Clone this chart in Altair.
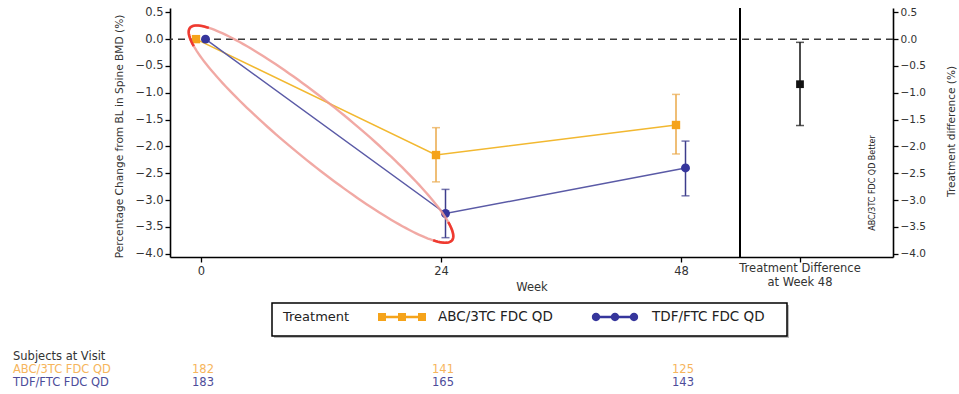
import altair as alt
import numpy as np
import pandas as pd

# ---------------- data ----------------
weeks = [0, 24, 48]
treatments = ["ABC/3TC FDC QD", "TDF/FTC FDC QD"]
abc_mean = [0.0, -2.16, -1.60]
abc_lo = [0.0, -2.66, -2.14]
abc_hi = [0.0, -1.65, -1.03]
tdf_mean = [0.0, -3.25, -2.40]
tdf_lo = [0.0, -3.70, -2.92]
tdf_hi = [0.0, -2.80, -1.90]
abc_n = [182, 141, 125]
tdf_n = [183, 165, 143]
diff_label = ["Treatment Difference", "at Week 48"]
diff_mean = [-0.84]
diff_lo = [-1.61]
diff_hi = [-0.06]
y_ticks = [-4.0, -3.5, -3.0, -2.5, -2.0, -1.5, -1.0, -0.5, 0.0, 0.5]
x_ticks = [0, 24, 48]

# ---------------- layout constants ----------------
TD_POS = 59.9        # x position of the treatment-difference column
SEP_POS = 53.9       # vertical separator
X_DOM = [-3.1, 69.2]
Y_DOM = [-4.06, 0.58]
W, H = 723, 249
FONT = "DejaVu Sans"

ORANGE_MARK, ORANGE_LINE, ORANGE_ERR, ORANGE_TXT = "#f5a31a", "#f2b830", "#eaa849", "#f6b55c"
BLUE_MARK, BLUE_LINE, BLUE_ERR, BLUE_TXT = "#36369c", "#5a5aa6", "#3d3d8c", "#4c4c9a"

xs = alt.Scale(domain=X_DOM, nice=False, zero=False)
ys = alt.Scale(domain=Y_DOM, nice=False, zero=False)

x_axis = alt.Axis(values=x_ticks + [TD_POS], labelExpr=f"datum.value > {SEP_POS} ? '' : datum.label",
                  title="Week", grid=False, labelFontSize=11.5, titleFontSize=11.5,
                  titleFontWeight="normal", tickSize=5, labelPadding=3, titlePadding=5,
                  labelOverlap=False)
y_axis_left = alt.Axis(values=y_ticks, tickCount=10, labelOverlap=False, format=".1f", grid=False,
                       labelFontSize=11.5,
                       title="Percentage Change from BL in Spine BMD (%)", titleFontSize=10.6,
                       titleFontWeight="normal", titleAngle=270, titleX=-51, titleY=128,
                       titleBaseline="middle", titleAlign="center", tickSize=5, labelPadding=2)
y_axis_right = alt.Axis(values=y_ticks, tickCount=10, labelOverlap=False, format=".1f", grid=False,
                        orient="right", labelFontSize=10.5,
                        title="Treatment difference (%)", titleFontSize=10.5, titleFontWeight="normal",
                        titleAngle=270, titleX=58, titleY=123, titleBaseline="middle",
                        titleAlign="center", tickSize=5, labelPadding=2)


def series_df(name, mean, lo, hi, n, offset):
    return pd.DataFrame({"treatment": name, "week": weeks, "mean": mean, "lo": lo, "hi": hi,
                         "n": n, "offset": offset})


abc = series_df(treatments[0], abc_mean, abc_lo, abc_hi, abc_n, -0.5)
tdf = series_df(treatments[1], tdf_mean, tdf_lo, tdf_hi, tdf_n, 0.45)


def series_layers(df, shape, mark_c, line_c, err_c, size):
    base = alt.Chart(df).transform_calculate(xp="datum.week + datum.offset")
    X = alt.X("xp:Q", scale=xs, axis=x_axis)
    Ym = alt.Y("mean:Q", scale=ys, axis=y_axis_left)
    line = base.mark_line(color=line_c, strokeWidth=1.5).encode(x=X, y=Ym)
    errb = base.transform_filter("datum.week > 0")
    rule = errb.mark_rule(color=err_c, strokeWidth=1.5).encode(
        x=X, y=alt.Y("lo:Q", scale=ys, axis=y_axis_left), y2="hi:Q")
    cap_lo = errb.mark_tick(color=err_c, orient="horizontal", size=8, thickness=1.5).encode(
        x=X, y=alt.Y("lo:Q", scale=ys, axis=y_axis_left))
    cap_hi = errb.mark_tick(color=err_c, orient="horizontal", size=8, thickness=1.5).encode(
        x=X, y=alt.Y("hi:Q", scale=ys, axis=y_axis_left))
    pts = base.mark_point(shape=shape, filled=True, color=mark_c, opacity=1, size=size).encode(
        x=X, y=Ym)
    return [line, rule, cap_lo, cap_hi, pts]


one = pd.DataFrame({"k": [0]})

zero_line = alt.Chart(one).mark_rule(color="#3a3a3a", strokeDash=[7, 5], strokeWidth=1.5).encode(
    y=alt.Y("z:Q", scale=ys, axis=y_axis_left)).transform_calculate(z="0")
separator = alt.Chart(one).mark_rule(color="black", strokeWidth=2).encode(
    x=alt.X("s:Q", scale=xs, axis=x_axis)).transform_calculate(s=str(SEP_POS))

# red highlight ellipse (annotation drawn on the reference)
ell_c, ell_u, ell_v = (12.0, -1.77), (13.1, -1.98), (-1.85, -0.42)
tt = np.linspace(-np.pi, np.pi, 181)
ell_df = pd.DataFrame({"i": np.arange(len(tt)), "t": tt,
                       "ex": ell_c[0] + np.cos(tt) * ell_u[0] + np.sin(tt) * ell_v[0],
                       "ey": ell_c[1] + np.cos(tt) * ell_u[1] + np.sin(tt) * ell_v[1]})
ell_df["tip"] = np.where(np.cos(tt) > 0.9, "end", np.where(np.cos(tt) < -0.9, "start", "side"))
ell_df["o"] = np.where(ell_df["tip"] == "end", ell_df["t"], np.mod(ell_df["t"], 2 * np.pi))
ellipse = alt.Chart(ell_df).mark_line(color="#ee9a94", strokeWidth=2.4, opacity=0.85).encode(
    x=alt.X("ex:Q", scale=xs, axis=x_axis), y=alt.Y("ey:Q", scale=ys, axis=y_axis_left), order="i:Q")
ellipse_tips = alt.Chart(ell_df).transform_filter("datum.tip != 'side'").mark_line(
    color="#ee2d24", strokeWidth=2.6, opacity=0.9).encode(
    x=alt.X("ex:Q", scale=xs, axis=x_axis), y=alt.Y("ey:Q", scale=ys, axis=y_axis_left),
    detail="tip:N", order="o:Q")

better_txt = alt.Chart(one).mark_text(text="ABC/3TC FDC QD Better", angle=270, fontSize=8,
                                      font=FONT, color="#222222").encode(
    x=alt.value(703), y=alt.value(175))

td_txt = alt.Chart(one).mark_text(text=diff_label, lineHeight=14, fontSize=11.5, font=FONT,
                                  baseline="top", align="center", color="#333333").encode(
    x=alt.X("p:Q", scale=xs, axis=x_axis), y=alt.value(255)).transform_calculate(p=str(TD_POS))

# ---------------- legend (drawn manually) ----------------
SQ_PATH = ("M-1,-0.06H1V0.06H-1Z M-1.2,-0.2H-0.8V0.2H-1.2Z M-0.2,-0.2H0.2V0.2H-0.2Z "
           "M0.8,-0.2H1.2V0.2H0.8Z")
CI_PATH = ("M-1,-0.06H1V0.06H-1Z "
           "M-0.78,0A0.22,0.22 0 1,1 -1.22,0A0.22,0.22 0 1,1 -0.78,0Z "
           "M0.22,0A0.22,0.22 0 1,1 -0.22,0A0.22,0.22 0 1,1 0.22,0Z "
           "M1.22,0A0.22,0.22 0 1,1 0.78,0A0.22,0.22 0 1,1 1.22,0Z")
leg_shadow = alt.Chart(one).mark_rect(fill="#bbbbbb").encode(
    x=alt.value(104), x2=alt.value(619), y=alt.value(297), y2=alt.value(330))
leg_box = alt.Chart(one).mark_rect(fill="white", stroke="black", strokeWidth=1.5).encode(
    x=alt.value(102), x2=alt.value(617), y=alt.value(295), y2=alt.value(328))
leg_title = alt.Chart(one).mark_text(text="Treatment", fontSize=13, font=FONT, align="left",
                                     baseline="middle", color="#222222").encode(
    x=alt.value(113), y=alt.value(309))
leg_sym1 = alt.Chart(one).mark_point(shape=SQ_PATH, filled=True, color=ORANGE_MARK, size=1600,
                                     opacity=1, strokeWidth=0).encode(x=alt.value(232), y=alt.value(309))
leg_sym2 = alt.Chart(one).mark_point(shape=CI_PATH, filled=True, color=BLUE_MARK, size=1444,
                                     opacity=1, strokeWidth=0).encode(x=alt.value(445), y=alt.value(309))
leg_lab = alt.Chart(pd.DataFrame({"t": treatments, "px": [268, 482]})).mark_text(
    fontSize=13.5, font=FONT, align="left", baseline="middle", color="#222222").encode(
    x=alt.X("px:Q", scale=None), y=alt.value(309), text="t:N")

# ---------------- subjects-at-visit table ----------------
TBL_FS = 11.5
tbl_head = alt.Chart(one).mark_text(text="Subjects at Visit", fontSize=TBL_FS, font=FONT, align="left",
                                    baseline="middle", color="#333333").encode(
    x=alt.value(-157), y=alt.value(349))


def table_row(df, color, ypix):
    lab = alt.Chart(df.head(1)).mark_text(fontSize=TBL_FS, font=FONT, align="left", baseline="middle",
                                          color=color).encode(
        x=alt.value(-157), y=alt.value(ypix), text="treatment:N")
    nums = alt.Chart(df).mark_text(fontSize=TBL_FS, font=FONT, align="center", baseline="middle",
                                   color=color, dx=2).encode(
        x=alt.X("week:Q", scale=xs, axis=x_axis), y=alt.value(ypix), text="n:Q")
    return [lab, nums]


left = alt.layer(
    zero_line, separator,
    *series_layers(abc, "square", ORANGE_MARK, ORANGE_LINE, ORANGE_ERR, 70),
    *series_layers(tdf, "circle", BLUE_MARK, BLUE_LINE, BLUE_ERR, 80),
    ellipse, ellipse_tips, better_txt, td_txt,
    leg_shadow, leg_box, leg_title, leg_sym1, leg_sym2, leg_lab,
    tbl_head, *table_row(abc, ORANGE_TXT, 362), *table_row(tdf, BLUE_TXT, 375),
)

diff_df = pd.DataFrame({"mean": diff_mean, "lo": diff_lo, "hi": diff_hi})
dbase = alt.Chart(diff_df).transform_calculate(p=str(TD_POS))
DX = alt.X("p:Q", scale=xs, axis=x_axis)
right = alt.layer(
    dbase.mark_rule(color="#111111", strokeWidth=1.5).encode(
        x=DX, y=alt.Y("lo:Q", scale=ys, axis=y_axis_right), y2="hi:Q"),
    dbase.mark_tick(color="#111111", orient="horizontal", size=8, thickness=1.5).encode(
        x=DX, y=alt.Y("lo:Q", scale=ys, axis=y_axis_right)),
    dbase.mark_tick(color="#111111", orient="horizontal", size=8, thickness=1.5).encode(
        x=DX, y=alt.Y("hi:Q", scale=ys, axis=y_axis_right)),
    dbase.mark_point(shape="square", filled=True, color="#111111", opacity=1, size=60).encode(
        x=DX, y=alt.Y("mean:Q", scale=ys, axis=y_axis_right)),
)

chart = alt.layer(left, right).resolve_scale(y="independent").properties(
    width=W, height=H,
    autosize=alt.AutoSizeParams(type="none"),
    padding={"left": 170, "top": 8, "right": 66, "bottom": 137},
    background="white",
).configure_view(stroke=None).configure_axis(
    domainColor="black", domainWidth=1.6, tickColor="black", tickWidth=1.3,
    labelColor="#333333", titleColor="#333333", labelFont=FONT, titleFont=FONT,
).configure_text(font=FONT)

chart.save("out.html", embed_options={"renderer": "svg", "actions": False})
